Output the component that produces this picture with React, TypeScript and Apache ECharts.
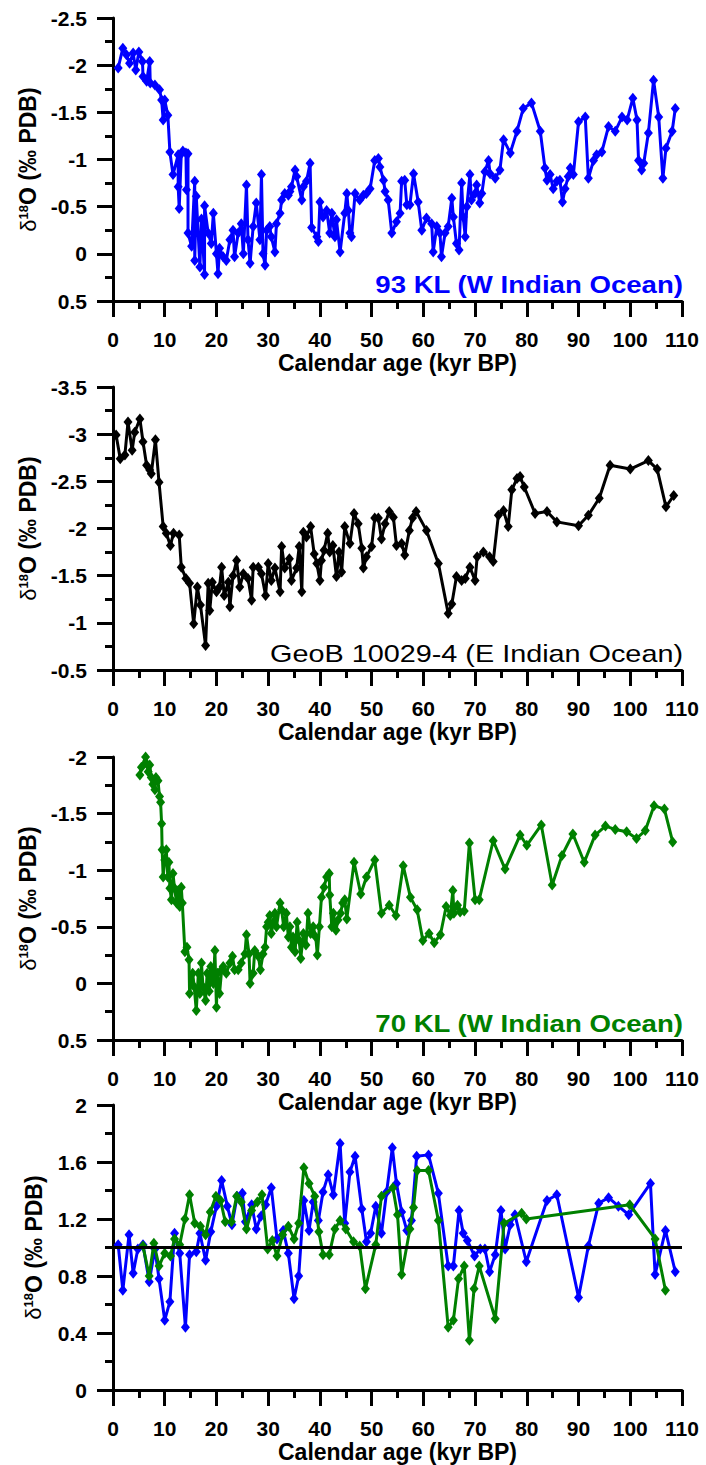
import React, { useEffect, useRef } from "react";
import * as echarts from "echarts";

// Planktonic foraminifera δ18O records vs. calendar age (kyr BP)
const kl93: [number, number][] = [
  [1.0,-1.97],[1.9,-2.18],[2.6,-2.11],[3.2,-2.02],[3.9,-2.13],[4.4,-1.95],[5.0,-2.14],[5.7,-2.04],[5.8,-1.88],[6.5,-1.83],
  [7.1,-2.04],[7.2,-1.81],[8.1,-1.79],[9.0,-1.74],[9.4,-1.63],[9.7,-1.42],[10.0,-1.63],[10.6,-1.47],[11.0,-1.08],[11.6,-0.84],
  [12.6,-1.05],[12.6,-0.71],[12.8,-0.48],[13.2,-1.06],[13.5,-1.09],[14.1,-1.07],[14.2,-0.68],[14.5,-1.06],[14.5,-0.22],[15.2,-0.08],
  [15.8,-0.77],[15.8,0.07],[16.1,-0.61],[16.8,0.14],[17.1,-0.37],[17.7,0.22],[17.7,-0.51],[18.4,-0.22],[19.0,-0.11],[19.4,-0.43],
  [20.0,0.0],[20.3,0.21],[20.6,-0.06],[21.3,0.03],[21.9,0.07],[22.6,-0.15],[23.2,-0.25],[23.5,0.03],[24.2,-0.22],[24.8,-0.32],
  [25.2,0.0],[25.8,-0.73],[26.1,-0.15],[26.5,0.1],[27.1,-0.29],[27.7,-0.54],[28.4,-0.15],[28.7,-0.84],[29.0,0.0],[29.4,0.12],
  [29.7,-0.25],[30.3,-0.29],[30.6,-0.18],[31.3,-0.02],[31.6,-0.32],[32.3,-0.43],[32.6,-0.57],[33.2,-0.64],[33.9,-0.62],[34.2,-0.66],
  [34.5,-0.71],[35.2,-0.89],[35.5,-0.82],[36.5,-0.57],[36.8,-0.71],[37.4,-0.77],[38.1,-0.96],[38.4,-0.28],[39.4,-0.18],[39.7,-0.13],
  [40.0,-0.55],[40.6,-0.39],[41.3,-0.46],[41.9,-0.22],[42.3,-0.43],[42.9,-0.18],[43.2,-0.36],[43.9,-0.02],[44.8,-0.43],[45.2,-0.64],
  [45.5,-0.46],[45.8,-0.22],[46.1,-0.18],[46.8,-0.64],[47.7,-0.57],[48.4,-0.62],[49.0,-0.64],[49.7,-0.69],[50.6,-0.99],[51.3,-1.01],
  [51.6,-0.92],[52.3,-0.78],[52.6,-0.66],[53.2,-0.57],[53.9,-0.22],[54.8,-0.34],[55.5,-0.43],[55.8,-0.77],[56.4,-0.78],[56.8,-0.52],
  [57.4,-0.52],[58.1,-0.85],[59.0,-0.55],[59.7,-0.25],[60.6,-0.38],[61.6,-0.32],[61.9,-0.02],[62.6,-0.29],[63.2,-0.22],[63.5,0.03],
  [64.2,-0.22],[64.8,-0.29],[65.5,-0.59],[65.8,-0.39],[66.4,-0.11],[66.9,-0.04],[67.4,-0.75],[67.7,-0.39],[68.1,-0.18],[68.4,-0.50],
  [69.0,-0.84],[69.3,-0.57],[70.0,-0.64],[70.3,-0.73],[70.9,-0.54],[71.3,-0.64],[71.9,-0.87],[72.6,-0.99],[72.9,-0.85],[73.9,-0.80],
  [74.8,-0.89],[75.5,-1.21],[76.8,-1.07],[78.1,-1.30],[79.3,-1.54],[80.9,-1.60],[82.6,-1.30],[83.5,-0.91],[83.9,-0.78],[84.5,-0.84],
  [85.1,-0.69],[85.8,-0.77],[86.4,-0.78],[86.9,-0.55],[87.4,-0.69],[88.0,-0.82],[88.4,-0.91],[89.0,-0.84],[90.0,-1.40],[91.3,-1.45],
  [91.9,-0.80],[92.9,-0.99],[93.5,-1.05],[94.5,-1.08],[95.8,-1.35],[97.1,-1.30],[98.4,-1.45],[99.4,-1.42],[100.5,-1.65],[101.3,-1.42],
  [101.6,-0.99],[102.2,-0.89],[102.6,-0.96],[103.5,-1.28],[104.5,-1.84],[105.5,-1.45],[106.3,-0.80],[106.9,-1.12],[108.1,-1.30],[108.7,-1.54],
];

const geoB: [number, number][] = [
  [0.6,-2.99],[1.4,-2.74],[2.3,-2.78],[2.9,-3.13],[3.7,-2.83],[4.2,-3.02],[5.2,-3.16],[5.8,-2.92],[6.5,-2.67],[7.1,-2.62],
  [7.4,-2.58],[8.2,-2.94],[8.9,-2.49],[9.7,-2.02],[10.3,-1.95],[11.1,-1.82],[11.7,-1.95],[12.8,-1.93],[13.2,-1.59],[14.1,-1.47],
  [14.8,-1.42],[15.6,-0.99],[16.3,-1.38],[16.9,-1.19],[17.9,-0.76],[18.4,-1.42],[18.7,-1.13],[19.2,-1.43],[20.0,-1.33],[20.6,-1.38],
  [21.0,-1.59],[21.5,-1.29],[22.3,-1.43],[22.6,-1.17],[23.2,-1.50],[23.9,-1.66],[24.5,-1.38],[25.2,-1.52],[26.1,-1.47],[26.8,-1.24],
  [27.1,-1.59],[28.1,-1.59],[28.7,-1.52],[29.5,-1.29],[30.0,-1.63],[30.6,-1.45],[31.3,-1.58],[32.3,-1.33],[32.6,-1.81],[33.2,-1.58],
  [34.1,-1.68],[34.5,-1.45],[35.5,-1.58],[36.0,-1.81],[36.5,-1.33],[36.8,-1.96],[37.4,-1.91],[38.2,-2.02],[38.9,-1.73],[39.4,-1.63],
  [40.0,-1.45],[40.3,-1.66],[40.8,-1.77],[41.5,-1.95],[41.9,-1.75],[42.5,-1.82],[43.2,-1.49],[43.7,-1.75],[44.2,-1.54],[44.8,-2.02],
  [45.8,-1.84],[46.6,-2.16],[47.4,-2.05],[48.1,-1.79],[48.4,-1.58],[49.0,-1.70],[50.0,-1.81],[50.6,-2.11],[51.3,-2.11],[51.9,-1.89],
  [52.6,-2.05],[53.4,-2.18],[54.2,-2.12],[54.8,-1.82],[55.8,-1.84],[56.4,-1.72],[57.3,-1.98],[57.9,-2.11],[58.6,-2.18],[60.6,-1.98],
  [62.9,-1.63],[64.8,-1.10],[65.5,-1.20],[66.4,-1.49],[67.4,-1.45],[68.1,-1.47],[69.0,-1.59],[70.0,-1.45],[70.4,-1.70],[71.6,-1.75],
  [72.8,-1.70],[73.5,-1.65],[74.5,-2.14],[75.5,-2.19],[76.4,-2.02],[77.1,-2.41],[78.1,-2.53],[78.7,-2.55],[79.5,-2.44],[81.6,-2.16],
  [83.9,-2.18],[85.8,-2.07],[90.0,-2.03],[91.9,-2.14],[94.0,-2.32],[96.1,-2.67],[100.0,-2.63],[103.5,-2.72],[105.2,-2.63],[106.9,-2.23],
  [108.4,-2.35],
];

const kl70: [number, number][] = [
  [5.2,-1.84],[5.5,-1.91],[6.3,-2.0],[6.5,-1.94],[6.8,-1.87],[7.1,-1.93],[7.4,-1.82],[7.7,-1.76],[8.1,-1.71],[8.3,-1.82],
  [8.7,-1.79],[9.0,-1.65],[9.2,-1.60],[9.4,-1.41],[9.5,-1.18],[9.7,-0.94],[10.0,-1.09],[10.3,-1.18],[10.6,-0.94],[10.8,-1.07],
  [11.0,-0.84],[11.3,-0.74],[11.6,-0.97],[11.9,-0.84],[12.3,-0.71],[12.6,-0.82],[12.9,-0.68],[13.2,-0.85],[13.4,-0.71],[13.9,-0.28],
  [14.3,-0.32],[14.7,-0.21],[14.8,0.09],[15.4,-0.09],[15.7,0.03],[16.1,0.24],[16.5,-0.09],[16.8,0.09],[17.1,-0.18],[17.4,0.03],
  [17.9,0.15],[18.2,-0.09],[18.6,0.07],[18.9,-0.15],[19.4,0.0],[19.7,-0.29],[20.0,0.21],[20.2,-0.09],[20.6,0.09],[21.0,-0.12],
  [21.3,-0.15],[21.9,-0.09],[22.6,-0.18],[23.1,-0.24],[23.5,-0.12],[24.2,-0.12],[24.8,-0.18],[25.5,-0.26],[25.8,-0.43],[26.3,-0.26],
  [26.5,0.0],[27.1,-0.09],[27.4,-0.29],[28.1,-0.24],[28.5,-0.12],[29.0,-0.26],[29.4,-0.32],[29.7,-0.50],[30.0,-0.54],[30.3,-0.60],
  [30.6,-0.44],[31.0,-0.54],[31.3,-0.62],[31.6,-0.50],[32.3,-0.71],[32.6,-0.65],[33.0,-0.50],[33.5,-0.62],[33.9,-0.41],[34.2,-0.50],
  [34.5,-0.32],[34.8,-0.41],[35.2,-0.28],[35.6,-0.54],[36.0,-0.38],[36.3,-0.22],[36.8,-0.44],[37.3,-0.34],[37.7,-0.62],[38.2,-0.44],
  [38.7,-0.50],[39.2,-0.41],[39.5,-0.25],[39.9,-0.50],[40.3,-0.76],[40.8,-0.85],[41.3,-0.94],[41.8,-0.97],[41.9,-0.78],[42.3,-0.50],
  [42.6,-0.62],[43.1,-0.47],[43.5,-0.56],[44.0,-0.62],[44.4,-0.71],[44.8,-0.74],[45.2,-0.57],[46.6,-1.07],[47.9,-0.79],[49.0,-0.94],
  [50.6,-1.09],[51.9,-0.62],[53.4,-0.69],[54.7,-0.60],[56.1,-1.04],[57.5,-0.76],[58.8,-0.65],[59.9,-0.38],[61.1,-0.44],[62.1,-0.36],
  [63.3,-0.43],[64.4,-0.68],[65.2,-0.60],[65.7,-0.82],[65.9,-0.62],[66.6,-0.69],[67.1,-0.63],[67.9,-0.64],[68.9,-1.24],[70.0,-0.74],
  [70.8,-0.74],[73.5,-1.26],[75.8,-1.01],[78.7,-1.31],[80.0,-1.22],[82.8,-1.40],[84.9,-0.87],[86.8,-1.13],[88.9,-1.32],[91.1,-1.07],
  [93.2,-1.31],[95.2,-1.39],[97.1,-1.36],[99.3,-1.34],[101.2,-1.28],[102.9,-1.35],[104.6,-1.57],[106.6,-1.54],[108.2,-1.25],
];

// Bottom panel: the two western records, each normalised to the eastern record
const ratio93: [number, number][] = [
  [1.0,1.02],[1.9,0.70],[3.1,1.09],[3.9,0.82],[4.8,0.99],[5.8,1.02],[7.0,0.76],[8.1,0.99],[8.9,0.78],[10.0,0.49],
  [11.0,0.62],[11.9,1.10],[12.9,0.96],[14.0,0.44],[14.8,0.95],[16.1,0.97],[16.8,1.10],[17.9,0.91],[18.9,1.11],[20.0,1.29],
  [21.0,1.47],[22.1,1.29],[23.0,1.16],[24.0,1.36],[25.0,1.38],[25.6,1.18],[26.8,1.30],[27.7,1.13],[28.6,1.22],[29.5,1.30],
  [30.6,1.42],[31.7,1.06],[32.9,1.12],[33.9,0.96],[35.0,0.64],[35.9,0.80],[36.9,1.33],[37.9,1.12],[38.7,1.32],[39.7,1.19],
  [40.6,1.39],[41.6,1.51],[42.6,1.37],[43.9,1.73],[44.8,1.17],[45.8,1.53],[46.8,1.64],[48.1,1.27],[49.0,1.04],[49.8,1.10],
  [50.8,1.29],[51.9,1.10],[52.9,1.39],[54.0,1.70],[54.8,1.45],[55.8,1.25],[56.8,1.12],[57.7,1.19],[58.7,1.64],[61.0,1.65],
  [62.9,1.38],[64.8,0.87],[65.8,0.87],[66.9,1.26],[67.7,1.10],[68.5,1.05],[69.9,0.94],[71.0,0.99],[71.9,0.99],[72.8,0.83],
  [73.9,0.95],[75.0,1.26],[75.8,0.99],[76.8,1.16],[77.7,1.23],[79.9,0.90],[83.9,1.33],[85.8,1.37],[90.0,0.65],[91.9,1.01],
  [93.9,1.31],[95.8,1.35],[97.7,1.29],[99.7,1.23],[103.9,1.45],[104.8,0.81],[106.8,1.12],[108.7,0.83],
];

const ratio70: [number, number][] = [
  [5.8,1.01],[7.0,0.80],[7.9,1.03],[8.9,0.87],[10.0,0.96],[11.1,0.94],[11.9,1.06],[12.9,1.02],[13.9,1.20],[14.8,1.37],
  [15.8,1.17],[16.9,1.15],[17.9,1.09],[18.8,1.25],[19.9,1.36],[20.8,1.33],[21.7,1.18],[22.9,1.18],[23.9,1.36],[24.8,1.32],
  [25.8,1.13],[26.8,1.26],[27.9,1.32],[28.8,1.37],[29.9,0.99],[30.8,1.05],[31.7,0.94],[32.8,1.09],[33.9,1.15],[35.0,1.06],
  [35.9,1.17],[36.9,1.56],[37.9,1.45],[39.0,1.36],[39.8,1.11],[40.6,0.95],[41.8,0.95],[42.9,1.13],[43.9,1.19],[45.0,1.13],
  [46.5,1.04],[47.7,1.01],[48.8,0.71],[50.8,1.02],[51.9,1.36],[54.1,1.42],[55.0,1.23],[55.8,0.81],[57.4,1.13],[58.1,1.28],
  [58.8,1.54],[61.0,1.54],[62.9,1.19],[64.8,0.44],[65.8,0.49],[66.8,0.78],[67.9,0.87],[68.9,0.35],[69.8,0.71],[70.8,0.87],
  [73.9,0.50],[75.6,1.17],[79.0,1.24],[79.9,1.20],[99.9,1.30],[104.8,1.06],[106.8,0.70],
];

const panelLabels = [
  "93 KL (W Indian Ocean)",
  "GeoB 10029-4 (E Indian Ocean)",
  "70 KL (W Indian Ocean)",
];

const ageRange = { min: 0, max: 110, interval: 10 };
const yRanges = [
  { min: -2.5, max: 0.5, interval: 0.5, inverse: true },
  { min: -3.5, max: -0.5, interval: 0.5, inverse: true },
  { min: -2, max: 0.5, interval: 0.5, inverse: true },
  { min: 0, max: 2, interval: 0.4, inverse: false },
];
const referenceLevel = 1;

const BLUE = "#0000ff";
const GREEN = "#008000";
const BLACK = "#000000";
const FONT = "'Liberation Sans', Arial, Helvetica, sans-serif";

export default function App() {
  const ref = useRef<HTMLDivElement>(null);

  useEffect(() => {
    if (!ref.current) return;
    const chart = echarts.init(ref.current, undefined, { renderer: "svg" });

    const grids = [
      { left: 113, right: 24, top: 18, height: 283 },
      { left: 113, right: 24, top: 387, height: 283 },
      { left: 113, right: 24, top: 757, height: 283 },
      { left: 113, right: 24, top: 1105, height: 285 },
    ];

    const axisLine = { show: true, onZero: false, lineStyle: { color: BLACK, width: 3 } };
    const axisTick = { show: true, inside: false, length: 16, lineStyle: { color: BLACK, width: 3 } };
    const minorTick = { show: true, splitNumber: 2, length: 8, lineStyle: { color: BLACK, width: 3 } };

    const xAxis = grids.map((_, i) => ({
      type: "value",
      gridIndex: i,
      ...ageRange,
      name: "Calendar age (kyr BP)",
      nameLocation: "middle",
      nameGap: 50,
      nameTextStyle: { fontFamily: FONT, fontWeight: "bold", fontSize: 23, color: BLACK },
      axisLine,
      axisTick,
      minorTick,
      axisLabel: { margin: 28, fontFamily: FONT, fontWeight: "bold", fontSize: 21, color: BLACK },
      splitLine: { show: false },
      minorSplitLine: { show: false },
    }));

    const yAxis = yRanges.map((r, i) => ({
      type: "value",
      gridIndex: i,
      min: r.min,
      max: r.max,
      interval: r.interval,
      inverse: r.inverse,
      name: "{d|δ}{s|18}{b|O (‰ PDB)}",
      nameLocation: "middle",
      nameGap: 68,
      nameTextStyle: {
        color: BLACK,
        fontFamily: FONT,
        fontSize: 23,
        rich: {
          d: { fontFamily: FONT, fontSize: 22, fontWeight: "normal", color: BLACK },
          s: { fontFamily: FONT, fontSize: 13, fontWeight: "bold", color: BLACK, verticalAlign: "top" },
          b: { fontFamily: FONT, fontSize: 23, fontWeight: "bold", color: BLACK },
        },
      },
      axisLine,
      axisTick,
      minorTick,
      axisLabel: { margin: 26, fontFamily: FONT, fontWeight: "bold", fontSize: 21, color: BLACK },
      splitLine: { show: false },
      minorSplitLine: { show: false },
    }));

    const lineSeries = (idx: number, name: string, data: [number, number][], color: string, z: number) => ({
      type: "line",
      name,
      xAxisIndex: idx,
      yAxisIndex: idx,
      data,
      z,
      symbol: "diamond",
      symbolSize: [9, 11],
      showSymbol: true,
      showAllSymbol: true,
      lineStyle: { color, width: 3 },
      itemStyle: { color },
      emphasis: { disabled: true },
    });

    const ratioBlue: any = lineSeries(3, "93 KL / GeoB 10029-4", ratio93, BLUE, 3);
    ratioBlue.markLine = {
      silent: true,
      symbol: "none",
      label: { show: false },
      lineStyle: { color: BLACK, width: 3, type: "solid" },
      data: [{ yAxis: referenceLevel }],
    };

    const labelRows = [
      { text: panelLabels[0], y: 285, color: BLUE, weight: "bold", stretch: 1.15 },
      { text: panelLabels[1], y: 654, color: BLACK, weight: "normal", stretch: 1.2 },
      { text: panelLabels[2], y: 1024, color: GREEN, weight: "bold", stretch: 1.15 },
    ];

    chart.setOption({
      animation: false,
      backgroundColor: "#ffffff",
      grid: grids,
      xAxis,
      yAxis,
      series: [
        lineSeries(0, "93 KL", kl93, BLUE, 3),
        lineSeries(1, "GeoB 10029-4", geoB, BLACK, 3),
        lineSeries(2, "70 KL", kl70, GREEN, 3),
        ratioBlue,
        lineSeries(3, "70 KL / GeoB 10029-4", ratio70, GREEN, 4),
      ],
      graphic: labelRows.map((r) => ({
        type: "text",
        x: 683,
        y: r.y,
        scaleX: r.stretch,
        z: 10,
        style: {
          text: r.text,
          fill: r.color,
          fontFamily: FONT,
          fontSize: 24,
          fontWeight: r.weight,
          textAlign: "right",
          textVerticalAlign: "middle",
          align: "right",
          verticalAlign: "middle",
        },
      })),
    });

    return () => chart.dispose();
  }, []);

  return (
    <div
      ref={ref}
      style={{ position: "absolute", left: 0, top: 0, width: 706, height: 1465, background: "#fff" }}
    />
  );
}
